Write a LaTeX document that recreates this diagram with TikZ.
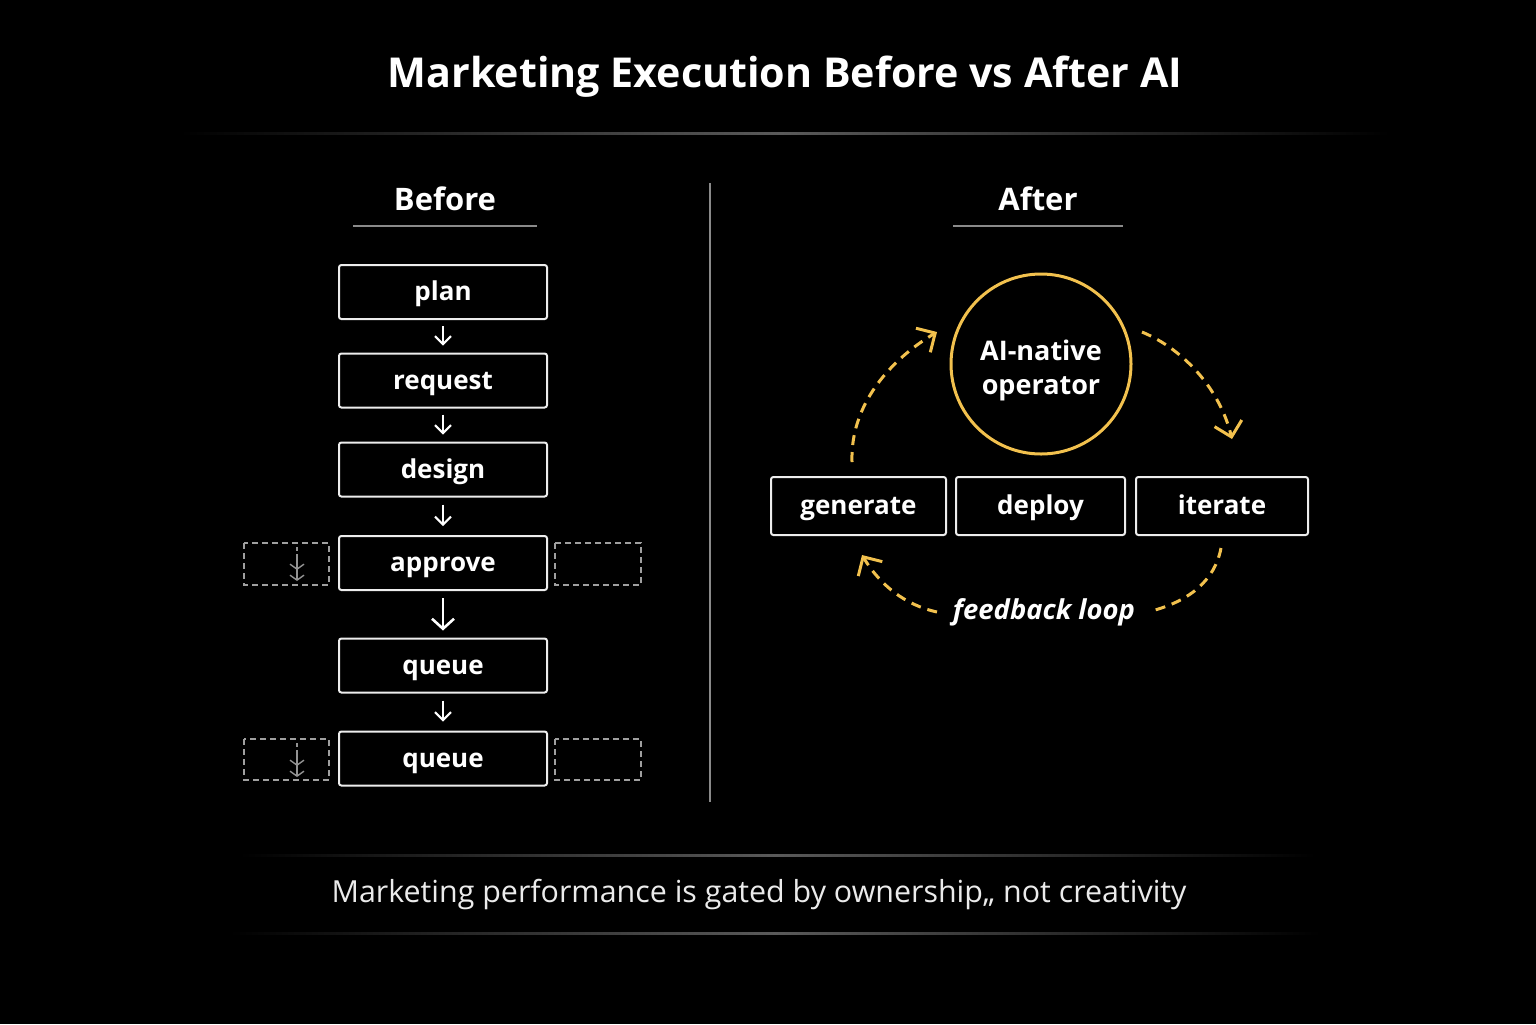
\documentclass[tikz,border=0pt]{standalone}
\usepackage{fontspec}
\setmainfont{Open Sans}
\usetikzlibrary{arrows.meta}
\definecolor{gold}{HTML}{F2C14E}
\definecolor{lineg}{HTML}{5A5A5A}
\definecolor{divg}{HTML}{8A8A8A}
\definecolor{boxw}{HTML}{EDEDED}
\begin{document}
\begin{tikzpicture}[x=0.5pt,y=-0.5pt,
  box/.style={draw=boxw, line width=1pt, rounded corners=1.2pt, minimum width=104pt, minimum height=27pt,
    font=\fontsize{13}{15}\selectfont\bfseries, text=white, inner sep=0pt, text height=0.98em, text depth=0.12em},
  abox/.style={box, minimum height=29pt},
  flow/.style={draw=white, line width=1pt, -{Straight Barb[length=4pt,width=8pt]}},
  bigflow/.style={draw=white, line width=1.3pt, -{Straight Barb[length=5pt,width=11pt]}},
  dbox/.style={draw=gray!75, line width=0.7pt, dash pattern=on 3pt off 2pt},
  loop/.style={draw=gold, line width=1.5pt, dash pattern=on 5pt off 3.5pt, -{Straight Barb[length=7pt,width=14pt]}},
  loopn/.style={draw=gold, line width=1.5pt, dash pattern=on 5pt off 3.5pt},
  head/.style={text=white, font=\fontsize{15.5}{18}\selectfont\bfseries},
]
\useasboundingbox (0,0) rectangle (1536,1024);
\fill[black] (0,0) rectangle (1536,1024);

% title
\node[text=white, font=\fontsize{20.6}{24}\selectfont\bfseries] (title) at (785,77) {Marketing Execution Before vs After AI};
\shade[left color=black, right color=lineg] (180,132) rectangle (780,134);
\shade[left color=lineg, right color=black] (780,132) rectangle (1390,134);

% headings
\node[head] (before) at (445,199) {Before};
\draw[divg, line width=0.6pt] (353,226) -- (537,226);
\node[head] (after) at (1038,199) {After};
\draw[divg, line width=0.6pt] (953,226) -- (1123,226);

% divider
\draw[divg, line width=0.7pt] (710,183) -- (710,802);

% before column
\node[box] (plan) at (443,292) {plan};
\node[box] (request) at (443,380.5) {request};
\node[box] (design) at (443,469.5) {design};
\node[box] (approve) at (443,563) {approve};
\node[box] (queue1) at (443,665.5) {queue};
\node[box] (queue2) at (443,758.5) {queue};

\draw[flow, shorten <=3pt, shorten >=3.5pt] (plan) -- (request);
\draw[flow, shorten <=3pt, shorten >=3.5pt] (request) -- (design);
\draw[flow, shorten <=3.5pt, shorten >=4.5pt] (design) -- (approve);
\draw[bigflow, shorten <=3.5pt, shorten >=3.5pt] (approve) -- (queue1);
\draw[flow, shorten <=3.5pt, shorten >=4.5pt] (queue1) -- (queue2);

% dashed side boxes
\draw[dbox] (244,543) rectangle (329,585);
\draw[dbox] (555,543) rectangle (641,585);
\draw[dbox] (244,739) rectangle (329,780);
\draw[dbox] (555,739) rectangle (641,780);
% small dashed double arrows
\foreach \y in {543,739}{
  \draw[gray!85, line width=0.7pt, dash pattern=on 2pt off 1.5pt] (297,\y+4) -- (297,\y+37);
  \draw[gray!85, line width=0.7pt, -{Straight Barb[length=2.5pt,width=7pt]}] (297,\y+14) -- (297,\y+27);
  \draw[gray!85, line width=0.7pt, -{Straight Barb[length=2.5pt,width=7pt]}] (297,\y+26) -- (297,\y+38);
}

% after side
\node[circle, draw=gold, line width=1.5pt, minimum size=90pt, inner sep=0pt] (op) at (1041,364) {};
\node[text=white, align=center, font=\fontsize{13.5}{17}\selectfont\bfseries] (optext) at (1041,370) {AI-native\\operator};
\node[abox, minimum width=87.5pt] (gen) at (858.5,506) {generate};
\node[abox, minimum width=84.5pt] (dep) at (1040.5,506) {deploy};
\node[abox, minimum width=86pt] (ite) at (1222,506) {iterate};
\node[text=white, font=\fontsize{13.7}{16}\selectfont\bfseries\itshape] (fb) at (1044,612) {feedback loop};

\coordinate (a1) at (852,462);
\coordinate (a2) at (937,332);
\coordinate (b1) at (1142,332);
\coordinate (b2) at (1232,439);
\coordinate (c1) at (1221,548);
\coordinate (c2) at (1155,610);
\coordinate (d1) at (937,612);
\coordinate (d2) at (862,555);
\draw[loop] (a1) .. controls (850,405) and (890,360) .. (a2);
\draw[loop] (b1) .. controls (1185,350) and (1220,390) .. (b2);
\draw[loopn] (c1) .. controls (1215,580) and (1190,600) .. (c2);
\draw[loop] (d1) .. controls (905,605) and (880,585) .. (d2);

% bottom
\shade[left color=black, right color=lineg] (240,854) rectangle (775,856);
\shade[left color=lineg, right color=black] (775,854) rectangle (1315,856);
\node[text=white!92!black, font=\fontsize{15.2}{18}\selectfont] (claim) at (759,895) {Marketing performance is gated by ownership,, not creativity};
\shade[left color=black, right color=lineg] (230,932) rectangle (775,934);
\shade[left color=lineg, right color=black] (775,932) rectangle (1320,934);
\end{tikzpicture}
\end{document}
